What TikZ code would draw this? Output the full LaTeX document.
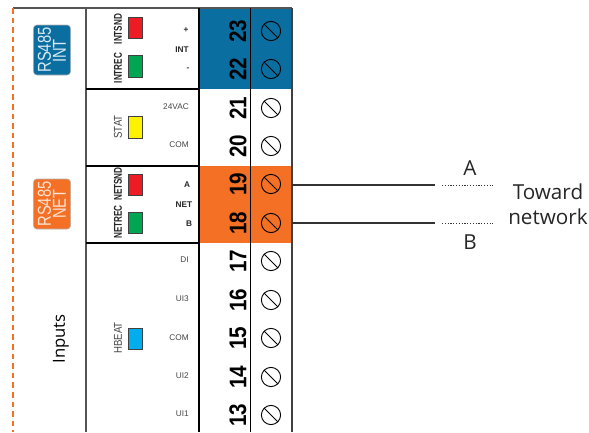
\documentclass[tikz,border=0pt]{standalone}
\usepackage{fontspec}
\setmainfont{Liberation Sans}
\newfontfamily\opensans{Open Sans}
\definecolor{cblue}{HTML}{0B6EA0}
\definecolor{corange}{HTML}{F47024}
\definecolor{cframe}{HTML}{555555}
\definecolor{clabel}{HTML}{444444}
\definecolor{cbadgeb}{HTML}{D9E8F1}
\definecolor{cbadgeo}{HTML}{FBE3D5}
\newcommand{\narrowreg}[1]{\scalebox{.85}[1]{#1}}
\newcommand{\narrowbold}[1]{\scalebox{.72}[1]{#1}}
\tikzset{
  lampbox/.style={draw=black!75,line width=0.8pt,minimum width=11.1pt,minimum height=16.2pt,inner sep=0pt,outer sep=0pt},
  termnum/.style={rotate=90,inner sep=0pt,font=\fontsize{18}{18}\selectfont\bfseries},
  screwnode/.style={circle,draw=black,line width=0.7pt,minimum size=14.4pt,inner sep=0pt},
  sidelabel/.style={rotate=90,inner sep=0pt,text=clabel,font=\fontsize{8.5}{9}\selectfont},
  sideboldlabel/.style={rotate=90,inner sep=0pt,text=black!85,font=\fontsize{8.5}{9}\selectfont\bfseries},
  pinlabel/.style={anchor=east,inner sep=0pt,text=clabel,font=\fontsize{6.2}{7}\selectfont},
  pinbold/.style={inner sep=0pt,text=black!85,font=\fontsize{6.2}{7}\selectfont\bfseries},
  badge/.style={rounded corners=2.5pt,draw=black!30,line width=0.4pt,minimum width=27.8pt,minimum height=37.5pt,inner sep=0pt},
  badgetext/.style={rotate=90,inner sep=0pt,font=\fontsize{14}{14}\selectfont},
  wiretext/.style={inner sep=0pt,text=black!85,font=\opensans\fontsize{15.5}{15.5}\selectfont},
  wire/.style={draw=black!80,line width=0.8pt},
  dotwire/.style={draw=black!80,line width=0.7pt,dash pattern=on 0.9pt off 1.2pt}
}
\begin{document}
\begin{tikzpicture}[x=0.75pt,y=-0.75pt]
\useasboundingbox (0,0) rectangle (589,432);
% coloured terminal zones
\fill[cblue] (199,8) rectangle (292,89);
\fill[corange] (199,166) rectangle (292,243);
% frame
\draw[cframe,line width=1pt] (13,8) -- (292,8);
\draw[cframe,line width=1pt] (86,8) -- (86,432);
\draw[black!75,line width=1pt] (292,8) -- (292,432);
\draw[black,line width=1.1pt] (199,8) -- (199,432);
\draw[black,line width=0.7pt] (250,8) -- (250,432);
\draw[black,line width=1.1pt] (86,89) -- (199,89);
\draw[black,line width=1.1pt] (86,166) -- (199,166);
\draw[black,line width=1.1pt] (86,243) -- (199,243);
\draw[corange,line width=1.1pt,dash pattern=on 4.2pt off 3pt] (13,8) -- (13,432);
% badges
\node[badge,fill=cblue] (bint) at (52,50) {};
\node[badgetext,text=cbadgeb] (bintb) at (44.5,50) {\scalebox{.79}[1]{RS485}};
\node[badgetext,text=cbadgeb] (binta) at (59.5,51) {\scalebox{.79}[1]{INT}};
\node[badge,fill=corange] (bnet) at (52,204) {};
\node[badgetext,text=cbadgeo] (bnetb) at (44.5,204) {\scalebox{.79}[1]{RS485}};
\node[badgetext,text=cbadgeo] (bneta) at (59.5,204) {\scalebox{.79}[1]{NET}};
\node[rotate=90,inner sep=0pt,text=black,font=\opensans\fontsize{12.5}{12.5}\selectfont] (inputs) at (61,339) {Inputs};
% lamps
\node[lampbox,fill={rgb,255:red,237;green,28;blue,36}] (l1) at (135.5,28) {};
\node[lampbox,fill={rgb,255:red,0;green,166;blue,81}] (l2) at (135.5,66.5) {};
\node[lampbox,fill={rgb,255:red,255;green,242;blue,0}] (l3) at (135.5,127.5) {};
\node[lampbox,fill={rgb,255:red,237;green,28;blue,36}] (l4) at (135.5,185) {};
\node[lampbox,fill={rgb,255:red,0;green,166;blue,81}] (l5) at (135.5,223) {};
\node[lampbox,fill={rgb,255:red,0;green,174;blue,239}] (l6) at (135.5,339) {};
% lamp labels
\node[sideboldlabel] (t1) at (118,29) {\narrowbold{INTSND}};
\node[sideboldlabel] (t2) at (118,68) {\narrowbold{INTREC}};
\node[sidelabel] (t3) at (118,127) {\narrowreg{STAT}};
\node[sideboldlabel] (t4) at (118,184) {\narrowbold{NETSND}};
\node[sideboldlabel] (t5) at (118,222) {\narrowbold{NETREC}};
\node[sidelabel] (t6) at (118,338) {\narrowreg{HBEAT}};
% pin labels
\node[pinbold] (p1) at (186,30) {+};
\node[pinbold] (p2) at (182,50) {INT};
\node[pinbold] (p3) at (188,69) {-};
\node[pinlabel] (p4) at (189,107) {24VAC};
\node[pinlabel] (p5) at (189,145) {COM};
\node[pinbold] (p6) at (187,185) {A};
\node[pinbold] (p7) at (184,205) {NET};
\node[pinbold] (p8) at (189,224) {B};
\node[pinlabel] (p9) at (189,260) {DI};
\node[pinlabel] (p10) at (189,299) {UI3};
\node[pinlabel] (p11) at (189,338) {COM};
\node[pinlabel] (p12) at (189,376) {UI2};
\node[pinlabel] (p13) at (189,414) {UI1};
% terminals
\foreach \n/\y in {23/31,22/69,21/108,20/146,19/184,18/223,17/261,16/300,15/338,14/377,13/415}{
  \node[termnum] (n\n) at (238,\y) {\scalebox{.86}[1]{\n}};
  \node[screwnode] (s\n) at (271,\y) {};
  \draw[black,line width=0.7pt] (s\n.north west) -- (s\n.south east);
}
% wires
\coordinate (a0) at (292,185);
\coordinate (a1) at (435,185);
\coordinate (a2) at (442,185);
\coordinate (a3) at (493,185);
\coordinate (b0) at (292,223);
\coordinate (b1) at (435,223);
\coordinate (b2) at (442,223);
\coordinate (b3) at (493,223);
\draw[wire] (a0) -- (a1);
\draw[dotwire] (a2) -- (a3);
\draw[wire] (b0) -- (b1);
\draw[dotwire] (b2) -- (b3);
\node[wiretext] (la) at (470,168) {A};
\node[wiretext] (lb) at (470,242) {B};
\node[wiretext] (l7) at (548,192) {Toward};
\node[wiretext] (l8) at (548,217) {network};
\end{tikzpicture}
\end{document}
